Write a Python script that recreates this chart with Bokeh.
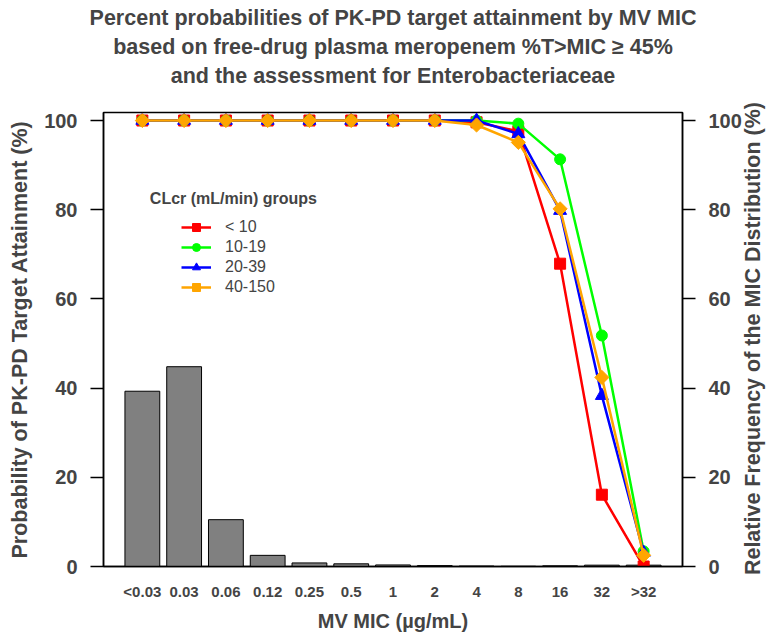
import numpy as np
from bokeh.plotting import figure
from bokeh.models import (Range1d, FixedTicker, LinearAxis, Legend, LegendItem,
                          Label, Title, ColumnDataSource)
from bokeh.embed import file_html
from bokeh.resources import INLINE

# ---- data ----
mic_labels = ["<0.03", "0.03", "0.06", "0.12", "0.25", "0.5", "1", "2", "4", "8", "16", "32", ">32"]
mic_freq = [39.3, 44.8, 10.5, 2.5, 0.8, 0.6, 0.35, 0.2, 0.1, 0.05, 0.15, 0.3, 0.3]
pta_lt10 = [100, 100, 100, 100, 100, 100, 100, 100, 99.6, 97.6, 67.9, 16.1, 0.0]
pta_10_19 = [100, 100, 100, 100, 100, 100, 100, 100, 100, 99.3, 91.3, 51.8, 3.4]
pta_20_39 = [100, 100, 100, 100, 100, 100, 100, 100, 100, 97.0, 79.8, 38.3, 3.1]
pta_40_150 = [100, 100, 100, 100, 100, 100, 100, 100, 99.0, 95.1, 80.2, 42.4, 2.5]
group_labels = ["< 10", "10-19", "20-39", "40-150"]
title_lines = ["Percent probabilities of PK-PD target attainment by MV MIC",
               "based on free-drug plasma meropenem %T>MIC \u2265 45%",
               "and the assessment for Enterobacteriaceae"]
y_ticks = [0, 20, 40, 60, 80, 100]
left_title = "Probability of PK-PD Target Attainment (%)"
right_title = "Relative Frequency of the MIC Distribution (%)"

xs = list(range(len(mic_labels)))
FONT = "Liberation Sans"
X0, X1, Y0, Y1 = -0.93, 12.93, 0, 101.8
FRAME_H = 634 - 112 - 68

p = figure(width=780, height=634, output_backend="svg", toolbar_location=None,
           x_range=Range1d(X0, X1), y_range=Range1d(Y0, Y1),
           min_border_left=103, min_border_right=93, min_border_top=112, min_border_bottom=68)
p.xgrid.visible = False
p.ygrid.visible = False
p.outline_line_color = "black"
p.outline_line_width = 1.5
p.background_fill_color = "white"
p.border_fill_color = "white"

# titles: p.title is outermost; added titles stack from the frame outward
p.title.text = title_lines[0]
p.title.align = "center"
p.title.text_font = FONT
p.title.text_font_size = "21.5px"
p.title.text_font_style = "bold"
p.title.standoff = 3
p.add_layout(Title(text=" ", align="center", text_font=FONT, text_font_size="1px",
                   standoff=20), "above")
p.add_layout(Title(text=title_lines[2], align="center", text_font=FONT, text_font_size="21.5px",
                   text_font_style="bold", standoff=3), "above")
p.add_layout(Title(text=title_lines[1], align="center", text_font=FONT, text_font_size="21.5px",
                   text_font_style="bold", standoff=3), "above")

# bars
src = ColumnDataSource(dict(x=xs, top=mic_freq))
p.vbar(x="x", top="top", width=1 / 1.2, bottom=0, source=src,
       fill_color="#808080", line_color="black", line_width=1)

# lines
series = [
    (pta_lt10, "#FF0000", "square", 11, 0.0),
    (pta_10_19, "#00FF00", "circle", 11, 0.0),
    (pta_20_39, "#0000FF", "triangle", 13, 0.0),
    (pta_40_150, "#FFA500", "square", 10, np.pi / 4),
]
items = []
for (vals, col, mk, sz, ang), lab in zip(series, group_labels):
    l = p.line(xs, vals, line_color=col, line_width=2.5)
    s = p.scatter(xs, vals, marker=mk, size=sz, angle=ang, fill_color=col, line_color=col)
    items.append(LegendItem(label=lab, renderers=[l, s]))

legend = Legend(items=items, location=(78, 269), orientation="vertical",
                glyph_width=30, glyph_height=20, spacing=0, label_standoff=14,
                label_text_font=FONT, label_text_font_size="16px", label_height=20,
                padding=0, margin=0, border_line_color=None, background_fill_alpha=0)
p.add_layout(legend, "center")

p.add_layout(Label(x=0.18, y=82.5, text="CLcr (mL/min) groups", text_font=FONT,
                   text_font_size="16px", text_font_style="bold",
                   text_baseline="middle", text_align="left"))

# axes
yt = FixedTicker(ticks=y_ticks)
p.yaxis[0].ticker = yt
p.add_layout(LinearAxis(ticker=yt), "right")

for ax in p.yaxis:
    ax.major_tick_in = 0
    ax.major_tick_out = 13
    ax.minor_tick_out = 0
    ax.minor_tick_in = 0
    ax.major_tick_line_width = 1.5
    ax.axis_line_width = 1.5
    ax.major_label_text_font = FONT
    ax.major_label_text_font_size = "20px"
    ax.major_label_text_font_style = "bold"
    ax.major_label_standoff = 13
    ax.axis_label_text_font = FONT
    ax.axis_label_text_font_size = "21.5px"
    ax.axis_label_text_font_style = "bold"
    ax.axis_label_standoff = 9
p.yaxis[0].axis_label = left_title

# right-hand axis title, reading bottom-to-top as in the original:
# a label-only axis with one tick; its anchor is adjusted so that the
# rotated label ends up centred on the frame
ypx = (Y1 - Y0) / FRAME_H
ymid = (Y0 + Y1) / 2 - 32.5 * ypx
title_axis = LinearAxis(ticker=FixedTicker(ticks=[ymid]),
                        major_label_overrides={ymid: right_title},
                        major_label_orientation=np.pi / 2,
                        major_label_text_font=FONT, major_label_text_font_size="21.5px",
                        major_label_text_font_style="bold", major_label_standoff=9,
                        axis_line_color=None, major_tick_line_color=None,
                        minor_tick_line_color=None, major_tick_in=0, major_tick_out=0,
                        minor_tick_in=0, minor_tick_out=0)
p.add_layout(title_axis, "right")

xa = p.xaxis[0]
xa.ticker = FixedTicker(ticks=xs)
xa.major_label_overrides = {i: lab for i, lab in zip(xs, mic_labels)}
xa.major_tick_in = 0
xa.major_tick_out = 0
xa.minor_tick_in = 0
xa.minor_tick_out = 0
xa.axis_line_width = 1.5
xa.major_label_text_font = FONT
xa.major_label_text_font_size = "15px"
xa.major_label_text_font_style = "bold"
xa.major_label_standoff = 16
xa.axis_label = "MV MIC (\u00b5g/mL)"
xa.axis_label_text_font = FONT
xa.axis_label_text_font_size = "20px"
xa.axis_label_text_font_style = "bold"
xa.axis_label_standoff = 7

open("out.html", "w").write(file_html(p, INLINE))
